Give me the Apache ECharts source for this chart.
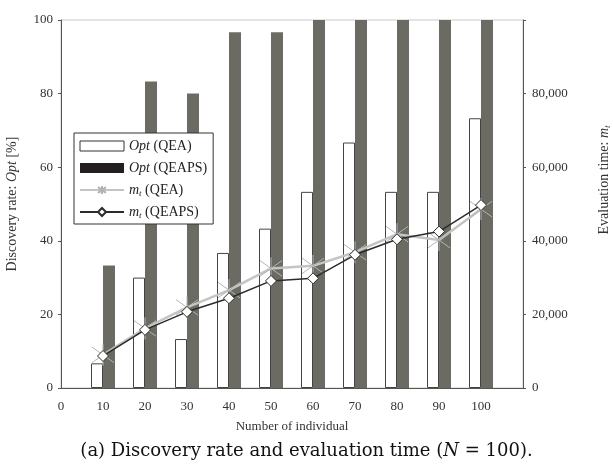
<!DOCTYPE html>
<html>
<head>
<meta charset="utf-8">
<script src="https://cdn.jsdelivr.net/npm/echarts@6/dist/echarts.min.js"></script>
<style>
  html, body { margin: 0; padding: 0; background: #fff; }
  #chart { width: 613px; height: 471px; }
</style>
</head>
<body>
<div id="chart"></div>
<script>
// number of individuals (x positions)
const individuals = [10, 20, 30, 40, 50, 60, 70, 80, 90, 100]
// discovery rate Opt [%]
const optQEA = [6.7, 30, 13.3, 36.7, 43.3, 53.3, 66.7, 53.3, 53.3, 73.3]
const optQEAPS = [33.3, 83.3, 80, 96.7, 96.7, 100, 100, 100, 100, 100]
// evaluation time m_t
const mtQEA = [9000, 16200, 21900, 26600, 32500, 33200, 36900, 41800, 40200, 48600]
const mtQEAPS = [8700, 15800, 20700, 24400, 29100, 29800, 36200, 40400, 42500, 49700]
// tick labels
const xTicks = [0, 10, 20, 30, 40, 50, 60, 70, 80, 90, 100]
const leftTicks = [0, 20, 40, 60, 80, 100]
const rightTicks = [0, 20000, 40000, 60000, 80000]

const pair = (vals) => individuals.map((x, i) => [x, vals[i]])
const serif = 'Liberation Serif'
const txt = '#333'

const asterisk = 'path://M0,-10L0,10M-7.07,-7.07L7.07,7.07M-7.07,7.07L7.07,-7.07'

let myChart = echarts.init(document.getElementById('chart'))
let option = {
  animation: false,
  textStyle: { fontFamily: serif },
  grid: {
    left: 61, right: 90, top: 20, bottom: 83,
    outerBoundsMode: 'none',
    containLabel: false,
    show: true, borderColor: '#c8c8c8', borderWidth: 1,
  },
  legend: {
    orient: 'vertical',
    left: 74, top: 133,
    width: 139,
    padding: [5, 6, 4, 5],
    itemWidth: 44, itemHeight: 10, itemGap: 6,
    backgroundColor: '#fff',
    borderColor: '#333', borderWidth: 1,
    textStyle: {
      fontFamily: serif, fontSize: 14, color: '#222', lineHeight: 16,
      rich: {
        i: { fontFamily: serif, fontSize: 14, fontStyle: 'italic', color: '#222', lineHeight: 16 },
        s: { fontFamily: serif, fontSize: 9, fontStyle: 'italic', color: '#222', lineHeight: 16, verticalAlign: 'bottom' },
      },
    },
    formatter: (name) => {
      if (name.startsWith('Opt')) return '{i|Opt}' + name.slice(3)
      return '{i|m}{s|t}' + name.slice(2)
    },
    data: [
      { name: 'Opt (QEA)', icon: 'rect', itemStyle: { color: '#fff', borderColor: '#333', borderWidth: 1 } },
      { name: 'Opt (QEAPS)', icon: 'rect', itemStyle: { color: '#231f20' } },
      { name: 'mt (QEA)' },
      { name: 'mt (QEAPS)' },
    ],
  },
  xAxis: {
    type: 'value',
    min: 0, max: 110, interval: 10,
    name: 'Number of individual',
    nameLocation: 'middle', nameGap: 32,
    nameTextStyle: { fontFamily: serif, fontSize: 13, color: txt },
    axisLine: { lineStyle: { color: '#555' } },
    axisTick: { show: false },
    splitLine: { show: false },
    axisLabel: {
      margin: 12, fontFamily: serif, fontSize: 13, color: txt,
      formatter: (v) => (xTicks.includes(v) ? String(v) : ''),
    },
  },
  yAxis: [
    {
      type: 'value',
      min: 0, max: 100, interval: 20,
      name: 'Discovery rate: {i|Opt} [%]',
      nameLocation: 'middle', nameGap: 42, nameRotate: 90,
      nameTextStyle: {
        fontFamily: serif, fontSize: 14, color: txt,
        rich: { i: { fontFamily: serif, fontSize: 14, fontStyle: 'italic', color: txt } },
      },
      axisLine: { show: true, lineStyle: { color: '#555' } },
      axisTick: { show: true, inside: false, length: 3, lineStyle: { color: '#555' } },
      splitLine: { show: false },
      axisLabel: {
        margin: 8, fontFamily: serif, fontSize: 13, color: txt,
        formatter: (v) => (leftTicks.includes(v) ? String(v) : ''),
      },
    },
    {
      type: 'value',
      position: 'right',
      min: 0, max: 100000, interval: 20000,
      axisLine: { show: true, lineStyle: { color: '#555' } },
      axisTick: { show: true, inside: false, length: 3, lineStyle: { color: '#555' } },
      splitLine: { show: false },
      axisLabel: {
        margin: 9, fontFamily: serif, fontSize: 13, color: txt,
        formatter: (v) => (rightTicks.includes(v) ? v.toLocaleString('en-US') : ''),
      },
    },
  ],
  graphic: [
    {
      type: 'text',
      x: 604, y: 180,
      rotation: Math.PI / 2,
      style: {
        text: 'Evaluation time: {i|m}{s|t}',
        fontFamily: serif, fontSize: 14, fill: txt,
        align: 'center', verticalAlign: 'middle',
        rich: {
          i: { fontFamily: serif, fontSize: 14, fontStyle: 'italic', fill: txt },
          s: { fontFamily: serif, fontSize: 9, fontStyle: 'italic', fill: txt, padding: [7, 0, 0, 0] },
        },
      },
    },
    {
      type: 'text',
      left: 'center', top: 442,
      style: {
        text: '(a) Discovery rate and evaluation time ({i|N} = 100).',
        fontFamily: 'DejaVu Serif', fontSize: 18, fill: '#111',
        rich: { i: { fontFamily: 'DejaVu Serif', fontSize: 18, fontStyle: 'italic', fill: '#111' } },
      },
    },
  ],
  series: [
    {
      name: 'Opt (QEA)',
      type: 'bar',
      barWidth: 12, barGap: '0%',
      itemStyle: { color: '#fff', borderColor: '#444', borderWidth: 1 },
      data: pair(optQEA),
    },
    {
      name: 'Opt (QEAPS)',
      type: 'bar',
      barWidth: 12, barGap: '0%',
      itemStyle: { color: '#6b6b63' },
      data: pair(optQEAPS),
    },
    {
      name: 'mt (QEA)',
      type: 'line',
      yAxisIndex: 1,
      symbol: asterisk,
      symbolSize: 22,
      lineStyle: { color: '#c4c4c4', width: 2.5 },
      itemStyle: { color: 'none', borderColor: '#b4b4b4', borderWidth: 1 },
      z: 3,
      data: pair(mtQEA),
    },
    {
      name: 'mt (QEAPS)',
      type: 'line',
      yAxisIndex: 1,
      symbol: 'diamond',
      symbolSize: 11,
      lineStyle: { color: '#2b2b2b', width: 1.5 },
      itemStyle: { color: '#fff', borderColor: '#2b2b2b', borderWidth: 1 },
      z: 4,
      data: pair(mtQEAPS),
    },
  ],
}
option && myChart.setOption(option)
</script>
</body>
</html>
